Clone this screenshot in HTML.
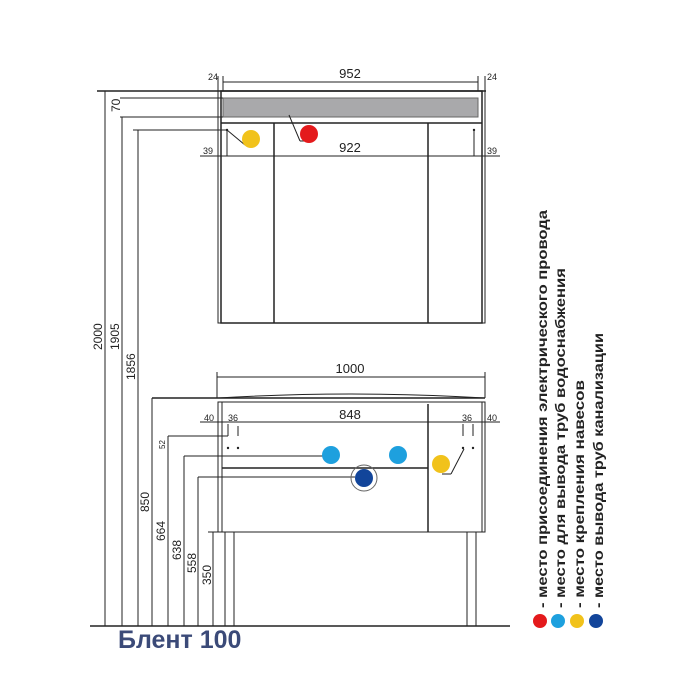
<!DOCTYPE html>
<html><head><meta charset="utf-8"><style>
html,body{margin:0;padding:0;background:#fff;width:700px;height:700px;overflow:hidden}
svg{display:block}
text{font-family:"Liberation Sans",sans-serif}
</style></head><body>
<svg width="700" height="700" viewBox="0 0 700 700" xmlns="http://www.w3.org/2000/svg">
<g stroke="#222" fill="none" stroke-width="1">
<!-- mirror cabinet -->
<line x1="97" y1="91" x2="486" y2="91" stroke-width="1.5"/>
<rect x="218" y="91" width="267" height="232"/>
<rect x="221" y="91" width="261" height="232" stroke-width="1.5"/>
<rect x="223" y="98" width="255" height="19" fill="#a9a9ab" stroke="#666"/>
<line x1="221" y1="123" x2="482" y2="123" stroke-width="1.5"/>
<line x1="274" y1="123" x2="274" y2="323" stroke-width="1.5"/>
<line x1="428" y1="123" x2="428" y2="323" stroke-width="1.5"/>
<line x1="223" y1="82" x2="478" y2="82"/>
<line x1="223" y1="76" x2="223" y2="91"/><line x1="478" y1="76" x2="478" y2="91"/>
<line x1="218" y1="76" x2="218" y2="91"/><line x1="485" y1="76" x2="485" y2="91"/>
<line x1="120" y1="98" x2="223" y2="98"/><line x1="120" y1="117" x2="223" y2="117"/>
<line x1="200" y1="156" x2="500" y2="156"/>
<line x1="227" y1="130" x2="227" y2="156"/><line x1="474" y1="130" x2="474" y2="156"/>
<line x1="133" y1="130" x2="227" y2="130"/>
<line x1="227" y1="130" x2="245" y2="145"/>
<line x1="289" y1="115" x2="300" y2="141"/><line x1="300" y1="141" x2="306" y2="141"/>
<!-- verticals -->
<line x1="105" y1="91" x2="105" y2="626"/>
<line x1="122" y1="117" x2="122" y2="626"/>
<line x1="138" y1="130" x2="138" y2="626"/>
<line x1="152" y1="398" x2="152" y2="626"/>
<line x1="168" y1="436" x2="168" y2="626"/>
<line x1="184" y1="456" x2="184" y2="626"/>
<line x1="198" y1="477" x2="198" y2="626"/>
<line x1="213" y1="532" x2="213" y2="626"/>
<line x1="90" y1="626" x2="510" y2="626" stroke-width="1.5"/>
<!-- vanity -->
<line x1="217" y1="377" x2="485" y2="377"/>
<line x1="217" y1="372" x2="217" y2="398"/><line x1="485" y1="372" x2="485" y2="398"/>
<path d="M218 398 Q350 390 485 398" />
<line x1="152" y1="398" x2="485" y2="398" stroke-width="1.5"/>
<rect x="218" y="402" width="267" height="130"/>
<line x1="222" y1="402" x2="222" y2="532"/><line x1="482" y1="402" x2="482" y2="532"/>
<line x1="428" y1="404" x2="428" y2="532" stroke-width="1.5"/>
<line x1="222" y1="468" x2="428" y2="468" stroke-width="1.5"/>
<line x1="200" y1="422" x2="500" y2="422"/>
<line x1="168" y1="436" x2="228" y2="436"/>
<line x1="184" y1="456" x2="330" y2="456"/>
<line x1="198" y1="477" x2="355" y2="477"/>
<line x1="208" y1="532" x2="222" y2="532"/>
<line x1="228" y1="424" x2="228" y2="436"/><line x1="238" y1="426" x2="238" y2="436"/>
<line x1="463" y1="424" x2="463" y2="436"/><line x1="473" y1="424" x2="473" y2="436"/>
<line x1="442" y1="474" x2="451" y2="474"/><line x1="451" y1="474" x2="464" y2="449"/>
<rect x="225" y="532" width="9" height="94"/>
<rect x="467" y="532" width="9" height="94"/>
<circle cx="364" cy="478" r="13" stroke="#666"/>
</g>
<g fill="#222"><circle cx="228" cy="448" r="1.2"/><circle cx="238" cy="448" r="1.2"/><circle cx="463" cy="448" r="1.2"/><circle cx="473" cy="448" r="1.2"/><circle cx="227" cy="130" r="1.2"/><circle cx="474" cy="130" r="1.2"/></g>
<circle cx="251" cy="139" r="9" fill="#f1c21b"/>
<circle cx="309" cy="134" r="9" fill="#e41a1c"/>
<circle cx="331" cy="455" r="9" fill="#1ea0de"/>
<circle cx="398" cy="455" r="9" fill="#1ea0de"/>
<circle cx="364" cy="478" r="9" fill="#12459a"/>
<circle cx="441" cy="464" r="9" fill="#f1c21b"/>
<g font-size="12" fill="#222">
<text x="350" y="78" text-anchor="middle" font-size="13">952</text>
<text x="208" y="80" font-size="9">24</text>
<text x="487" y="80" font-size="9">24</text>
<text x="350" y="152" text-anchor="middle" font-size="13">922</text>
<text x="203" y="154" font-size="9">39</text>
<text x="487" y="154" font-size="9">39</text>
<text x="350" y="373" text-anchor="middle" font-size="13">1000</text>
<text x="350" y="419" text-anchor="middle" font-size="13">848</text>
<text x="204" y="421" font-size="9">40</text>
<text x="228" y="421" font-size="9">36</text>
<text x="462" y="421" font-size="9">36</text>
<text x="487" y="421" font-size="9">40</text>
<g font-size="12">
<text transform="translate(120,112) rotate(-90)">70</text>
<text transform="translate(102,350) rotate(-90)">2000</text>
<text transform="translate(119,350) rotate(-90)">1905</text>
<text transform="translate(135,380) rotate(-90)">1856</text>
<text transform="translate(149,512) rotate(-90)">850</text>
<text transform="translate(165,541) rotate(-90)">664</text>
<text transform="translate(181,560) rotate(-90)">638</text>
<text transform="translate(196,573) rotate(-90)">558</text>
<text transform="translate(211,585) rotate(-90)">350</text>
<text transform="translate(165,449) rotate(-90)" font-size="8">52</text>
</g>
</g>
<text x="118" y="648" font-size="25" font-weight="bold" fill="#3b4a78">Блент 100</text>
<g font-size="14" font-weight="bold" fill="#222">
<text transform="translate(547,608) rotate(-90)" textLength="398" lengthAdjust="spacingAndGlyphs">- место присоединения электрического провода</text>
<text transform="translate(565,608) rotate(-90)" textLength="340" lengthAdjust="spacingAndGlyphs">- место для вывода труб водоснабжения</text>
<text transform="translate(584,608) rotate(-90)" textLength="228" lengthAdjust="spacingAndGlyphs">- место крепления навесов</text>
<text transform="translate(603,608) rotate(-90)" textLength="275" lengthAdjust="spacingAndGlyphs">- место вывода труб канализации</text>
</g>
<circle cx="540" cy="621" r="7" fill="#e41a1c"/>
<circle cx="558" cy="621" r="7" fill="#1ea0de"/>
<circle cx="577" cy="621" r="7" fill="#f1c21b"/>
<circle cx="596" cy="621" r="7" fill="#12459a"/>
</svg>
</body></html>
